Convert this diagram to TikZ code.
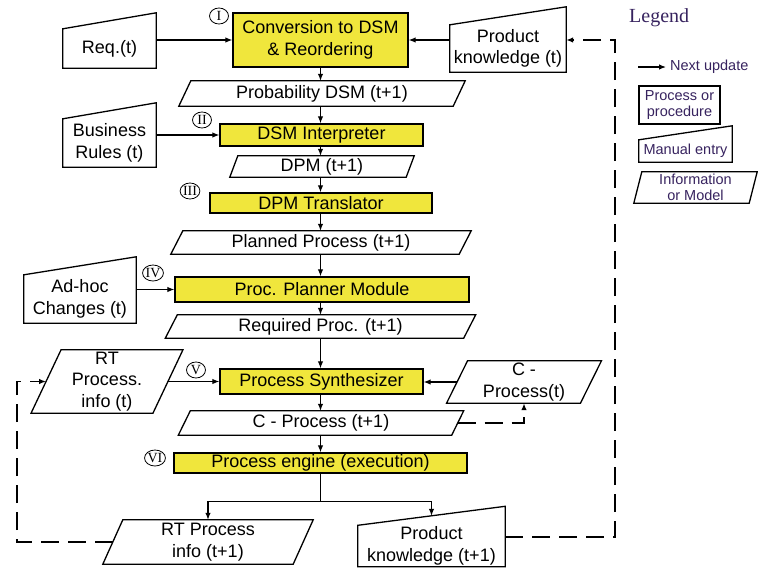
\documentclass[tikz,border=0pt]{standalone}
\usepackage{fontspec}
\setmainfont{Liberation Sans}
\newfontfamily\serifleg{Liberation Serif}
\usetikzlibrary{arrows.meta,calc,shapes.geometric}
\definecolor{procyellow}{RGB}{240,230,60}
\definecolor{legcol}{RGB}{55,35,95}
% parallelogram around a node (name, slant)
\newcommand\paradraw[2]{%
  \draw[shapeline] ($(#1.south west)+(-#2/2,0)$) -- ($(#1.north west)+(#2/2,0)$) -- ($(#1.north east)+(#2/2,0)$) -- ($(#1.south east)+(-#2/2,0)$) -- cycle;}
% manual entry: slanted top rising to the right (name, rise)
\newcommand\manualdraw[2]{%
  \draw[shapeline] (#1.south west) -- (#1.north west) -- ($(#1.north east)+(0,-#2)$) -- (#1.south east) -- cycle;}
\tikzset{
  shapeline/.style={line width=1.3pt, line join=miter},
  mainfont/.style={font=\fontsize{18}{21.5}\selectfont},
  proc/.style={draw, fill=procyellow, line width=1.3pt, inner sep=0pt, align=center, mainfont},
  info/.style={inner sep=0pt, align=center, mainfont},
  num/.style={draw, ellipse, line width=0.8pt, inner sep=0pt, minimum width=19pt, minimum height=16pt, font=\serifleg\fontsize{14}{14}\selectfont},
  conn/.style={line width=1.2pt, -{Latex[length=7pt,width=5.5pt]}},
  plain/.style={line width=1.2pt},
  dashline/.style={line width=1.6pt, dash pattern=on 18pt off 9pt, -{Latex[length=7pt,width=5.5pt]}},
  legtext/.style={text=legcol, align=center, font=\fontsize{14.5}{16.5}\selectfont}
}
\begin{document}
\begin{tikzpicture}[x=1pt,y=-1pt]
\fill[white] (0,0) rectangle (758,570);
\useasboundingbox (0,0) rectangle (758,570);

% main column
\node[proc, minimum width=175pt, minimum height=54pt] (conv) at (320.5,40) {Conversion to DSM\\\& Reordering};
\node[info, minimum width=274pt, minimum height=25pt] (prob) at (322,93.5) {Probability DSM (t+1)};
\node[proc, minimum width=203pt, minimum height=22pt] (dsmi) at (321.5,135) {DSM Interpreter};
\node[info, minimum width=176pt, minimum height=21pt] (dpm) at (322,166.5) {DPM (t+1)};
\node[proc, minimum width=222pt, minimum height=20pt] (dpmt) at (321,203) {DPM Translator};
\node[info, minimum width=288pt, minimum height=23pt] (plan) at (321,242.5) {Planned Process (t+1)};
\node[proc, minimum width=294pt, minimum height=25pt] (ppm) at (322,289.5) {Proc. Planner Module};
\node[info, minimum width=298pt, minimum height=23pt] (reqp) at (320.5,326.5) {Required Proc. (t+1)};
\node[proc, minimum width=203pt, minimum height=25pt] (syn) at (321.5,381.5) {Process Synthesizer};
\node[info, minimum width=273pt, minimum height=24pt] (cp1) at (321,423) {C - Process (t+1)};
\node[proc, minimum width=293pt, minimum height=20pt] (eng) at (320.5,463) {Process engine (execution)};

\paradraw{prob}{12}
\paradraw{dpm}{8}
\paradraw{plan}{12}
\paradraw{reqp}{12}
\paradraw{cp1}{12}

% side inputs
\node[info, minimum width=93pt, minimum height=39pt] (reqt) at (109.5,48.5) {Req.(t)};
\node[info, minimum width=93pt, minimum height=48pt] (bus) at (109.5,143) {Business\\Rules (t)};
\node[info, minimum width=112pt, minimum height=48pt] (adhoc) at (80,299) {Ad-hoc\\Changes (t)};
\node[info, minimum width=116pt, minimum height=47pt] (pkt) at (508,48.5) {Product\\knowledge (t)};
\node[info, minimum width=147pt, minimum height=41pt] (pk1) at (431.5,546) {Product\\knowledge (t+1)};
\manualdraw{reqt}{16}
\manualdraw{bus}{16}
\manualdraw{adhoc}{18}
\manualdraw{pkt}{18}
\manualdraw{pk1}{19}

\node[info, minimum width=121.5pt, minimum height=63pt] (rtt) at (107,381.5) {RT\\Process.\\info (t)};
\node[info, minimum width=190pt, minimum height=44pt] (rt1) at (208,542) {RT Process\\info (t+1)};
\node[info, minimum width=133.5pt, minimum height=42pt] (cpt) at (524,382) {C -\\Process(t)};
\paradraw{rtt}{30}
\paradraw{rt1}{20}
\paradraw{cpt}{21}

% numbers
\node[num] (n1) at (219,16) {I};
\node[num] (n2) at (202,120) {II};
\node[num] (n3) at (190,191) {III};
\node[num] (n4) at (153,273) {IV};
\node[num] (n5) at (196,370) {V};
\node[num] (n6) at (155,458) {VI};

% vertical flow
\draw[conn] (conv.south) -- (conv.south |- prob.north);
\draw[conn] (conv.south |- prob.south) -- (conv.south |- dsmi.north);
\draw[conn] (conv.south |- dsmi.south) -- (conv.south |- dpm.north);
\draw[conn] (conv.south |- dpm.south) -- (conv.south |- dpmt.north);
\draw[conn] (conv.south |- dpmt.south) -- (conv.south |- plan.north);
\draw[conn] (conv.south |- plan.south) -- (conv.south |- ppm.north);
\draw[conn] (conv.south |- ppm.south) -- (conv.south |- reqp.north);
\draw[conn] (conv.south |- reqp.south) -- (conv.south |- syn.north);
\draw[conn] (conv.south |- syn.south) -- (conv.south |- cp1.north);
\draw[conn] (conv.south |- cp1.south) -- (conv.south |- eng.north);

% side arrows
\draw[conn] (reqt.east |- conv.west) -- (conv.west);
\draw[conn] (pkt.west |- conv.east) -- (conv.east);
\draw[conn] (bus.east |- dsmi.west) -- (dsmi.west);
\draw[conn] (adhoc.east |- ppm.west) -- (ppm.west);
\draw[conn] (rtt.east) -- (rtt.east -| syn.west);
\draw[conn] (cpt.west) -- (cpt.west -| syn.east);

% engine outputs
\draw[plain] (conv.south |- eng.south) -- ++(0,28) coordinate (split);
\draw[conn] (split) -| (rt1.north);
\draw[conn] (split) -| ($(pk1.north)+(0,-9.5)$);

% dashed feedback
\draw[dashline] (cp1.east) -| (cpt.south);
\draw[dashline] (rt1.west) -- ++(-96,0) |- (rtt.west);
\draw[dashline] ([yshift=9pt]pk1.east) -- ++(110,0) |- (pkt.east |- conv.east);

% legend
\node[anchor=west, inner sep=0pt, text=legcol, font=\serifleg\fontsize{20}{20}\selectfont] (leg) at (629,18) {Legend};
\coordinate (la) at (638,67);
\node[anchor=west, inner sep=4pt, legtext] (nu) at (666,67) {Next update};
\draw[conn] (la) -- (nu.west);
\node[draw, line width=1.5pt, minimum width=81pt, minimum height=38pt, inner sep=0pt, legtext] (lp) at (679.5,105) {Process or\\procedure};
\node[minimum width=93pt, minimum height=22pt, inner sep=0pt, legtext] (lm) at (685.5,151) {Manual entry};
\manualdraw{lm}{14}
\node[minimum width=115pt, minimum height=31pt, inner sep=0pt, legtext] (li) at (695.5,187.5) {Information\\or Model};
\paradraw{li}{8}
\end{tikzpicture}
\end{document}
